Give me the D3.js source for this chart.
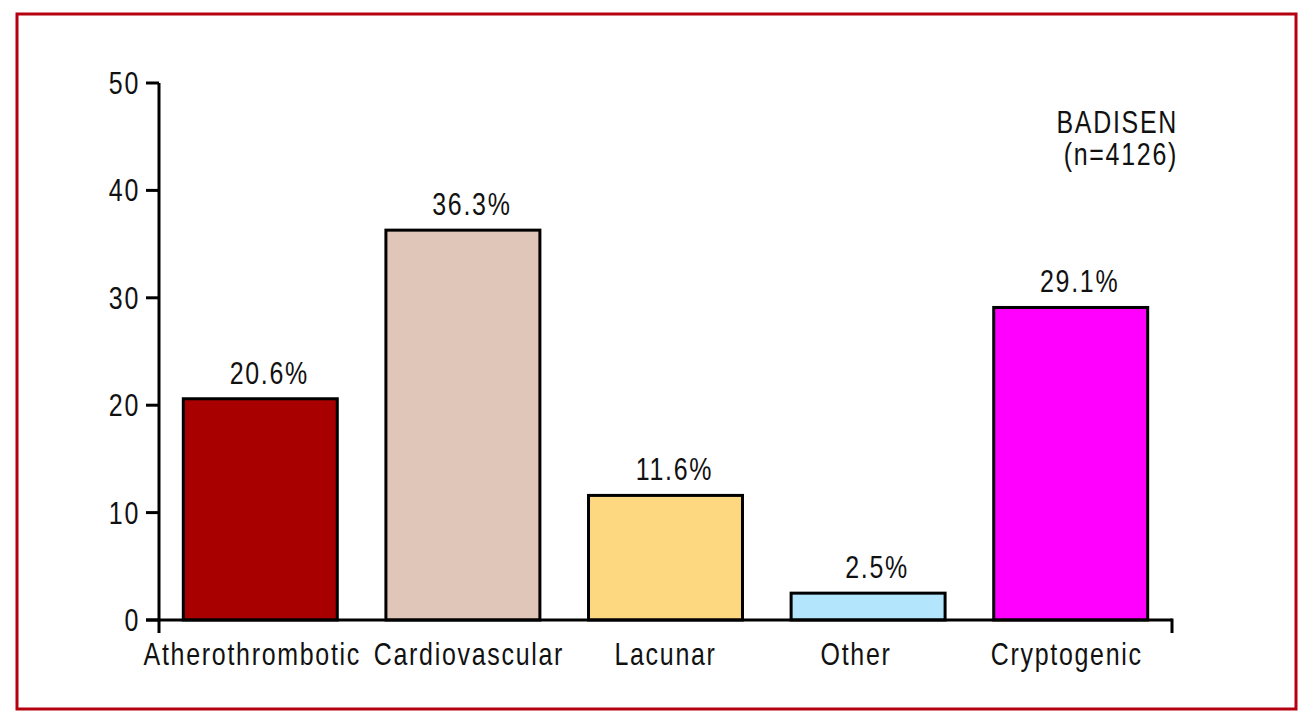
<!DOCTYPE html>
<html>
<head>
<meta charset="utf-8">
<script src="https://cdn.jsdelivr.net/npm/d3@7"></script>
<style>
  body { margin: 0; background: #fff; }
  text { font-family: "Liberation Sans", Arial, sans-serif; fill: #111; font-size: 32px; letter-spacing: 2.2px; }
</style>
</head>
<body>
<div id="chart"></div>
<script>
const categories = ["Atherothrombotic", "Cardiovascular", "Lacunar", "Other", "Cryptogenic"];
const values = [20.6, 36.3, 11.6, 2.5, 29.1];
const colors = ["#a80000", "#e0c6b8", "#fdd880", "#b3e5fc", "#ff00ff"];
const yTicks = [0, 10, 20, 30, 40, 50];

const width = 1309, height = 719;
const narrow = 0.78; // condensed look
// category labels in the original are not exactly centred under the bars
const catShift = [-8, 6, 0, -12, -4];

const svg = d3.select("#chart").append("svg")
    .attr("width", width)
    .attr("height", height);

// condensed text: placed at (px, py) and squeezed horizontally
function label(parent, px, py, str, anchor) {
    return parent.append("g")
        .attr("transform", `translate(${px},${py}) scale(${narrow},1)`)
        .append("text")
        .attr("text-anchor", anchor || "middle")
        .text(str);
}

// red frame
svg.append("rect")
    .attr("x", 17).attr("y", 14)
    .attr("width", 1279).attr("height", 695)
    .attr("fill", "none")
    .attr("stroke", "#b5000f")
    .attr("stroke-width", 3);

const x = d3.scaleBand()
    .domain(categories)
    .range([159, 1172])
    .paddingInner(0.24)
    .paddingOuter(0.12);

const y = d3.scaleLinear()
    .domain([0, 50])
    .range([620, 83]);

// bars
svg.append("g")
    .selectAll("rect")
    .data(categories)
    .join("rect")
    .attr("x", d => x(d))
    .attr("y", (d, i) => y(values[i]))
    .attr("width", x.bandwidth())
    .attr("height", (d, i) => y(0) - y(values[i]))
    .attr("fill", (d, i) => colors[i])
    .attr("stroke", "#000")
    .attr("stroke-width", 3);

// value labels
const valG = svg.append("g");
categories.forEach((c, i) => {
    label(valG, x(c) + x.bandwidth() / 2 + 9, y(values[i]) - 15, values[i].toFixed(1) + "%");
});

// axes
const axisG = svg.append("g").attr("stroke", "#000").attr("stroke-width", 3);
axisG.append("line").attr("x1", 159).attr("x2", 159).attr("y1", y(50)).attr("y2", 633);
axisG.append("line").attr("x1", 146).attr("x2", 1172).attr("y1", y(0)).attr("y2", y(0));
axisG.append("line").attr("x1", 1172).attr("x2", 1172).attr("y1", y(0) - 1.5).attr("y2", 633);
axisG.selectAll("line.tick")
    .data(yTicks)
    .join("line")
    .attr("class", "tick")
    .attr("x1", 146).attr("x2", 159)
    .attr("y1", d => y(d)).attr("y2", d => y(d));

const yLab = svg.append("g");
yTicks.forEach(t => label(yLab, 140, y(t) + 11, String(t), "end"));

// category labels
const xLab = svg.append("g");
categories.forEach((c, i) => label(xLab, x(c) + x.bandwidth() / 2 + catShift[i], 665, c));

// study label
const note = svg.append("g");
label(note, 1178, 133, "BADISEN", "end");
label(note, 1178, 165, "(n=4126)", "end");
</script>
</body>
</html>
